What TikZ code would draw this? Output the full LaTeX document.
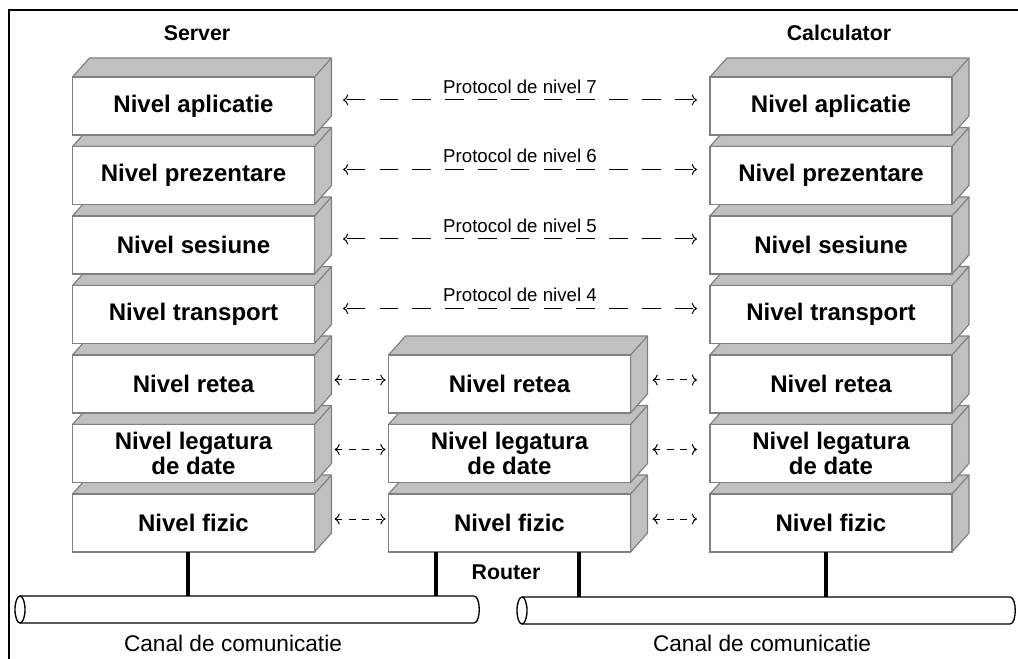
\documentclass[tikz,border=0pt]{standalone}
\usepackage{fontspec}
\setmainfont{Liberation Sans}
\usetikzlibrary{positioning, arrows.meta, backgrounds, calc}
\definecolor{boxside}{RGB}{192,192,192}
\definecolor{boxedge}{RGB}{128,128,128}
\tikzset{
  layerbox/.style = {rectangle, draw=boxedge, fill=white, line width=0.9pt,
                     minimum width=181.5pt, minimum height=43.5pt, inner sep=0pt,
                     outer sep=0pt, align=center,
                     font=\fontsize{18}{19}\selectfont\bfseries},
  facefill/.style = {fill=boxside, draw=boxedge, line width=0.9pt, line join=round},
  protoarrow/.style = {{To[scale=1.2]}-{To[scale=1.2]}, line width=0.75pt,
                       dash pattern=on 14pt off 10.6pt, dash phase=-2pt},
  linkarrow/.style = {{To[scale=1.2]}-{To[scale=1.2]}, line width=0.75pt,
                      dash pattern=on 5pt off 5pt},
  protolabel/.style = {font=\fontsize{14}{16}\selectfont, midway, yshift=10pt},
  stemline/.style = {line width=3pt},
  cablebody/.style = {rectangle, minimum height=20.25pt, inner sep=0pt, outer sep=0pt},
  cableline/.style = {line width=1pt},
  hostlabel/.style = {font=\fontsize{16}{18}\selectfont\bfseries},
  canallabel/.style = {font=\fontsize{17}{18}\selectfont}
}
% top and side faces of a layer block
\newcommand{\layerfaces}[1]{%
  \filldraw[facefill] (#1.south east) -- (#1.north east) -- (#1.north west)
    -- ++(17,-19) -- ($(#1.north east)+(17,-19)$) -- ($(#1.south east)+(17,-19)$) -- cycle;
  \draw[facefill] (#1.north east) -- ++(17,-19);}
% outline of a cable
\newcommand{\cableoutline}[1]{%
  \draw[cableline] (#1.west) ellipse [x radius=5, y radius=13.5];
  \draw[cableline] (#1.north west) -- (#1.north east)
    .. controls +(7,0) and +(7,0) .. (#1.south east) -- (#1.south west);}

\begin{document}
\begin{tikzpicture}[x=0.75pt, y=-0.75pt, node distance=8.625pt]
\useasboundingbox (0,0) rectangle (1018,659);
\draw[line width=2pt] (9,659) -- (9,10) -- (1018,10);

% Server
\node[layerbox] (srvapl) at (193.5,106) {Nivel aplicatie};
\node[layerbox, below=of srvapl] (srvpre) {Nivel prezentare};
\node[layerbox, below=of srvpre] (srvses) {Nivel sesiune};
\node[layerbox, below=of srvses] (srvtra) {Nivel transport};
\node[layerbox, below=of srvtra] (srvret) {Nivel retea};
\node[layerbox, below=of srvret] (srvleg) {Nivel legatura\\de date};
\node[layerbox, below=of srvleg] (srvfiz) {Nivel fizic};

% Router
\node[layerbox, right=55.5pt of srvret] (rtret) {Nivel retea};
\node[layerbox, below=of rtret] (rtleg) {Nivel legatura\\de date};
\node[layerbox, below=of rtleg] (rtfiz) {Nivel fizic};

% Calculator
\node[layerbox, right=296.6pt of srvapl] (calapl) {Nivel aplicatie};
\node[layerbox, below=of calapl] (calpre) {Nivel prezentare};
\node[layerbox, below=of calpre] (calses) {Nivel sesiune};
\node[layerbox, below=of calses] (caltra) {Nivel transport};
\node[layerbox, below=of caltra] (calret) {Nivel retea};
\node[layerbox, below=of calret] (calleg) {Nivel legatura\\de date};
\node[layerbox, below=of calleg] (calfiz) {Nivel fizic};

\begin{scope}[on background layer]
\layerfaces{srvfiz} \layerfaces{srvleg} \layerfaces{srvret} \layerfaces{srvtra}
\layerfaces{srvses} \layerfaces{srvpre} \layerfaces{srvapl}
\layerfaces{rtfiz} \layerfaces{rtleg} \layerfaces{rtret}
\layerfaces{calfiz} \layerfaces{calleg} \layerfaces{calret} \layerfaces{caltra}
\layerfaces{calses} \layerfaces{calpre} \layerfaces{calapl}
\end{scope}

\node[hostlabel] (server) at (197,33) {Server};
\node[hostlabel] (calc) at (839,33) {Calculator};
\node[hostlabel] (router) at (506,572) {Router};

% protocols between peer levels
\draw[protoarrow] ([xshift=21.4pt, yshift=4.5pt]srvapl.east) -- node[protolabel] {Protocol de nivel 7} ([xshift=-9.75pt, yshift=4.5pt]calapl.west);
\draw[protoarrow] ([xshift=21.4pt, yshift=4.5pt]srvpre.east) -- node[protolabel] {Protocol de nivel 6} ([xshift=-9.75pt, yshift=4.5pt]calpre.west);
\draw[protoarrow] ([xshift=21.4pt, yshift=4.5pt]srvses.east) -- node[protolabel] {Protocol de nivel 5} ([xshift=-9.75pt, yshift=4.5pt]calses.west);
\draw[protoarrow] ([xshift=21.4pt, yshift=4.5pt]srvtra.east) -- node[protolabel] {Protocol de nivel 4} ([xshift=-9.75pt, yshift=4.5pt]caltra.west);

\draw[linkarrow] ([xshift=15pt, yshift=3pt]srvret.east) -- ([xshift=-2.25pt, yshift=3pt]rtret.west);
\draw[linkarrow] ([xshift=15pt, yshift=3pt]srvleg.east) -- ([xshift=-2.25pt, yshift=3pt]rtleg.west);
\draw[linkarrow] ([xshift=15pt, yshift=3pt]srvfiz.east) -- ([xshift=-2.25pt, yshift=3pt]rtfiz.west);
\draw[linkarrow] ([xshift=16.5pt, yshift=3pt]rtret.east) -- ([xshift=-9.75pt, yshift=3pt]calret.west);
\draw[linkarrow] ([xshift=16.5pt, yshift=3pt]rtleg.east) -- ([xshift=-9.75pt, yshift=3pt]calleg.west);
\draw[linkarrow] ([xshift=16.5pt, yshift=3pt]rtfiz.east) -- ([xshift=-9.75pt, yshift=3pt]calfiz.west);

% communication channels
\node[cablebody, minimum width=340.5pt] (lcable) at (247,609.5) {};
\node[cablebody, minimum width=366pt] (rcable) at (766,610.5) {};
\cableoutline{lcable}
\cableoutline{rcable}
\node[canallabel] (lcanal) at (233,643) {Canal de comunicatie};
\node[canallabel] (rcanal) at (762,643) {Canal de comunicatie};

\draw[stemline] ([xshift=-4.1pt]srvfiz.south) -- ([xshift=-4.1pt]srvfiz.south |- lcable.north);
\draw[stemline] ([xshift=-55.1pt]rtfiz.south) -- ([xshift=-55.1pt]rtfiz.south |- lcable.north);
\draw[stemline] ([xshift=52.1pt]rtfiz.south) -- ([xshift=52.1pt]rtfiz.south |- rcable.north);
\draw[stemline] ([xshift=-3.75pt]calfiz.south) -- ([xshift=-3.75pt]calfiz.south |- rcable.north);
\end{tikzpicture}
\end{document}
